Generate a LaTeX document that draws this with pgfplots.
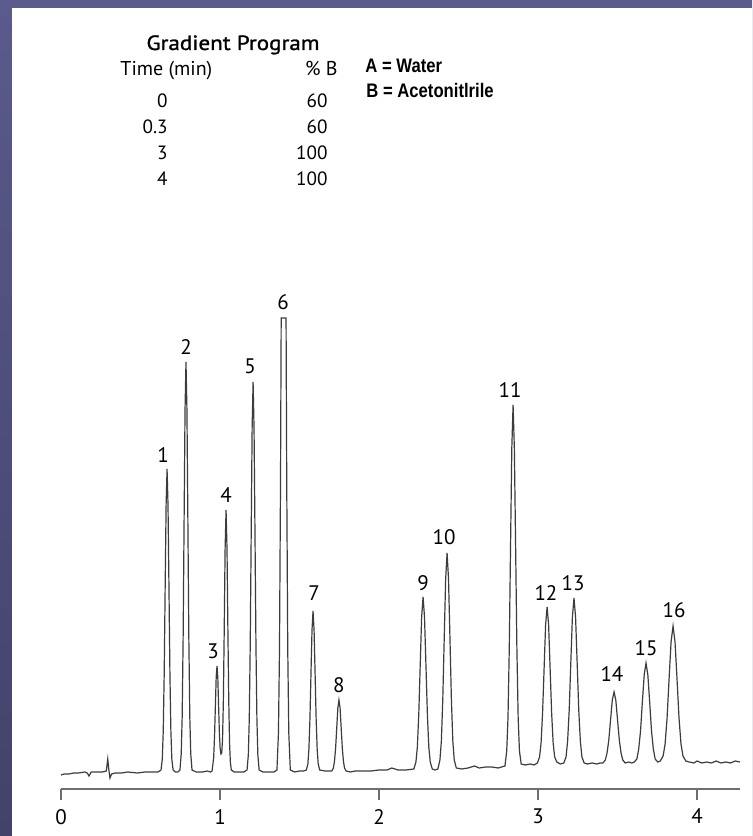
\documentclass[border=0pt]{standalone}
\usepackage{fontspec}
\setmainfont{PT Sans}
\newfontfamily\hdrfont[FakeBold=1.2,FakeStretch=1.12]{PT Sans}
\newfontfamily\narrowfont[FakeStretch=0.85]{Liberation Sans}
\usepackage{pgfplots}
\pgfplotsset{compat=1.18}
\definecolor{bgtop}{RGB}{90,90,140}
\definecolor{bgbot}{RGB}{66,66,106}
\definecolor{trace}{RGB}{60,60,60}
\definecolor{axgray}{RGB}{110,110,110}
\begin{document}
\begin{tikzpicture}
\shade[top color=bgtop, bottom color=bgbot] (0pt,0pt) rectangle (376pt,418pt);
\fill[white] (6pt,0pt) rectangle (376pt,414pt);
% gradient table
\node[font=\hdrfont\fontsize{10.3}{12}\selectfont, anchor=base, inner sep=0pt] at (116.5pt,393pt) {Gradient Program};
\node[font=\fontsize{10}{12}\selectfont, anchor=base west, inner sep=0pt] at (60pt,380pt) {Time (min)};
\node[font=\fontsize{10}{12}\selectfont, anchor=base east, inner sep=0pt] at (169pt,380pt) {\% B};
\foreach \y/\a/\b in {364/0/60, 351/0.3/60, 338/3/100, 325/4/100}{
  \node[font=\fontsize{9.6}{11}\selectfont, anchor=base east, inner sep=0pt] at (84pt,\y pt) {\a};
  \node[font=\fontsize{9.6}{11}\selectfont, anchor=base east, inner sep=0pt] at (164pt,\y pt) {\b};
}
\node[font=\narrowfont\bfseries\fontsize{9.8}{11}\selectfont, anchor=base west, inner sep=0pt] at (182.5pt,381.5pt) {A = Water};
\node[font=\narrowfont\bfseries\fontsize{9.8}{11}\selectfont, anchor=base west, inner sep=0pt] at (183pt,369pt) {B = Acetonitlrile};
\begin{axis}[
  at={(30.5pt,23.5pt)}, anchor=south west,
  scale only axis, width=339.5pt, height=250pt,
  xmin=0, xmax=4.27, ymin=0, ymax=500,
  axis x line=bottom, axis y line=none,
  x axis line style={-, color=axgray, line width=1pt},
  xtick={0,1,2,3,4}, ytick=\empty,
  tick align=outside, major tick length=5.5pt,
  tick style={color=axgray, line width=1pt},
  /pgf/number format/assume math mode=true,
  xticklabel style={font=\fontsize{10.5}{12}\selectfont, text=black, yshift=-1pt},
  clip=false,
]
\addplot[color=trace, line width=0.6pt, mark=none] coordinates {
(0.000,14)(0.020,15)(0.050,15)(0.080,16)(0.110,16)(0.150,17)(0.165,16)(0.176,13)(0.190,17)(0.220,17)(0.260,17)(0.285,18)(0.294,30)(0.301,19)(0.308,11)(0.318,15)(0.340,16)(0.380,16)(0.420,17)(0.480,16)(0.530,17)(0.580,17)(0.610,17)
(0.629,19)(0.637,30)(0.643,58)(0.649,115)(0.655,201)(0.661,284)(0.667,320)(0.673,284)(0.679,201)(0.685,115)(0.691,58)(0.697,30)(0.705,19)
(0.720,17)(0.735,17)
(0.748,19)(0.756,35)(0.762,72)(0.768,150)(0.774,266)(0.780,379)(0.786,427)(0.792,379)(0.798,266)(0.804,150)(0.810,72)(0.816,35)(0.824,19)
(0.850,17)(0.890,17)(0.920,18)(0.940,17)
(0.950,18)(0.960,31)(0.966,55)(0.971,84)(0.976,112)(0.981,123)(0.986,112)(0.991,84)(0.996,56)(1.001,40)(1.006,35)(1.011,36)(1.016,50)(1.021,88)(1.026,153)(1.032,240)(1.038,279)(1.044,240)(1.050,153)(1.055,88)(1.060,46)(1.065,27)(1.071,19)
(1.090,17)(1.120,17)(1.150,17)
(1.170,19)(1.178,34)(1.184,70)(1.190,144)(1.196,254)(1.202,361)(1.208,407)(1.214,361)(1.220,254)(1.226,144)(1.232,70)(1.238,34)(1.246,19)
(1.270,17)(1.310,17)(1.340,17)
(1.358,19)(1.3675,56)(1.374,139)(1.3805,309)(1.3847,471)(1.4153,471)(1.4195,309)(1.426,139)(1.4325,56)(1.442,19)
(1.470,17)(1.500,18)(1.525,18)
(1.543,19)(1.5525,25)(1.559,40)(1.5655,70)(1.572,115)(1.5785,159)(1.585,178)(1.5915,159)(1.598,115)(1.6045,70)(1.611,40)(1.6175,25)(1.627,19)
(1.660,18)(1.690,18)
(1.703,18)(1.713,21)(1.720,28)(1.727,41)(1.734,61)(1.741,81)(1.748,89)(1.755,81)(1.762,61)(1.769,41)(1.776,28)(1.783,21)(1.793,18)
(1.820,17)(1.850,18)(1.900,18)(1.950,18)(2.000,19)(2.050,19)(2.080,21)(2.120,19)(2.170,19)
(2.219,20)(2.232,27)(2.241,42)(2.250,75)(2.259,124)(2.268,172)(2.277,192)(2.286,172)(2.295,124)(2.304,75)(2.313,42)(2.322,27)(2.335,20)
(2.352,19)
(2.370,20)(2.383,29)(2.392,48)(2.401,90)(2.410,151)(2.419,210)(2.428,236)(2.437,210)(2.446,151)(2.455,90)(2.464,48)(2.473,29)(2.486,21)
(2.520,20)(2.560,21)(2.600,23)(2.630,21)(2.670,22)(2.710,22)(2.750,21)(2.770,22)
(2.792,23)(2.803,38)(2.811,71)(2.819,140)(2.827,242)(2.835,341)(2.843,384)(2.851,341)(2.859,242)(2.867,140)(2.875,71)(2.883,38)(2.894,25)
(2.920,24)(2.950,25)(2.975,24)
(2.996,26)(3.0095,32)(3.019,46)(3.0285,76)(3.038,120)(3.0475,164)(3.057,182)(3.0665,164)(3.076,120)(3.0855,76)(3.095,46)(3.1045,32)(3.118,27)
(3.140,25)
(3.162,26)(3.176,32)(3.186,48)(3.196,79)(3.206,126)(3.216,172)(3.226,191)(3.236,172)(3.246,126)(3.256,79)(3.266,48)(3.276,32)(3.290,26)
(3.310,25)(3.340,26)(3.370,25)(3.390,26)
(3.408,26)(3.423,29)(3.434,36)(3.445,49)(3.456,69)(3.467,89)(3.478,97)(3.489,89)(3.500,69)(3.511,49)(3.522,36)(3.533,29)(3.548,26)
(3.570,27)(3.590,26)
(3.605,27)(3.6215,30)(3.633,40)(3.6445,58)(3.656,87)(3.6675,114)(3.679,126)(3.6905,114)(3.702,87)(3.7135,58)(3.725,40)(3.7365,30)(3.753,27)
(3.769,28)(3.7865,33)(3.799,45)(3.8115,71)(3.824,110)(3.8365,147)(3.849,163)(3.8615,147)(3.874,110)(3.8865,71)(3.899,45)(3.9115,33)(3.929,28)
(3.950,27)(3.980,26)(4.000,28)(4.030,26)(4.060,27)(4.090,26)(4.120,28)(4.150,26)(4.180,27)(4.210,26)(4.240,28)(4.270,27)
};
\foreach \t/\s/\n in {0.642/334/1, 0.786/442/2, 0.956/138/3, 1.038/294/4, 1.189/423/5, 1.396/487/6, 1.591/196/7, 1.748/104/8, 2.277/206/9, 2.409/252/10, 2.824/399/11, 3.050/196/12, 3.220/206/13, 3.465/115/14, 3.679/141/15, 3.855/179/16}{
  \edef\temp{\noexpand\node[font=\noexpand\fontsize{10.5}{12}\noexpand\selectfont, anchor=center] at (axis cs:\t,\s) {\n};}
  \temp
}
\end{axis}
\end{tikzpicture}
\end{document}
